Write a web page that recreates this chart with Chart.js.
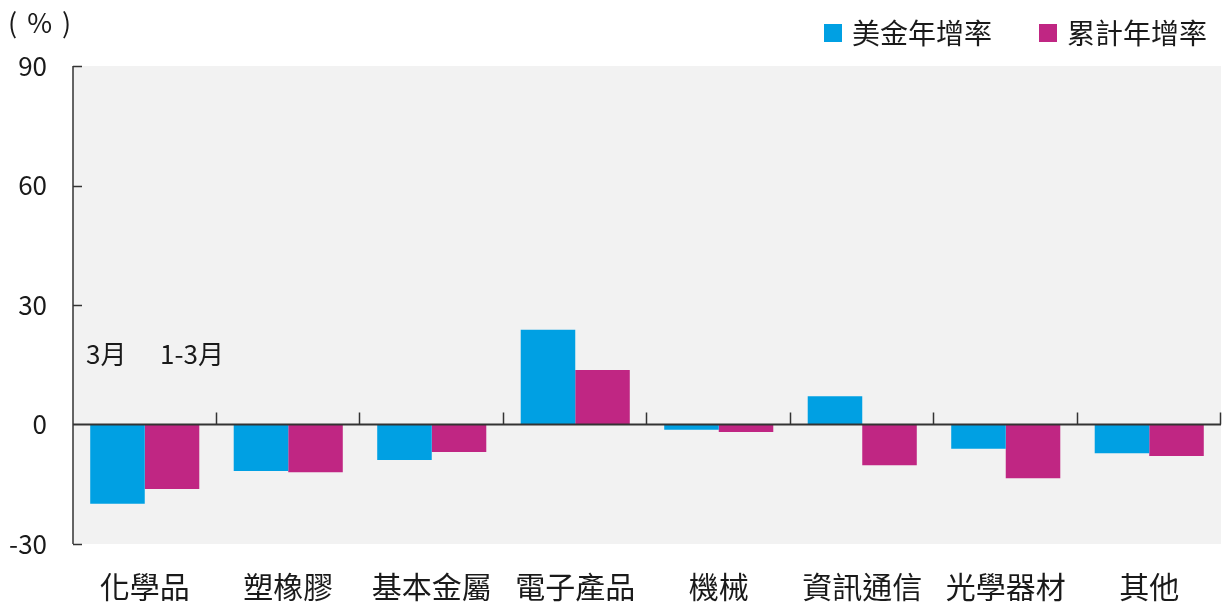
<!DOCTYPE html>
<html>
<head>
<meta charset="utf-8">
<script src="https://cdn.jsdelivr.net/npm/chart.js@4"></script>
<style>
html,body{margin:0;padding:0;background:#fff;}
#wrap{position:relative;width:1223px;height:607px;}
</style>
</head>
<body>
<div id="wrap"><canvas id="c"></canvas></div>
<script>
const categories = ['化學品','塑橡膠','基本金屬','電子產品','機械','資訊通信','光學器材','其他'];
const usdYoY = [-19.9, -11.7, -8.9, 23.8, -1.3, 7.1, -6.1, -7.2];
const cumYoY = [-16.2, -12.0, -6.9, 13.7, -1.9, -10.2, -13.5, -7.9];
const seriesNames = ['美金年增率','累計年增率'];
const yTicks = [90, 60, 30, 0, -30];
const unitLabel = '( % )';
const periodLabels = ['3月', '1-3月'];

const FONT = '"Noto Sans CJK TC","Noto Sans",sans-serif';
const BLUE = '#00A0E3';
const MAGENTA = '#C02683';
const AXIS = '#333333';

const deco = {
  id: 'deco',
  beforeDraw(chart) {
    const {ctx, chartArea: a} = chart;
    ctx.save();
    ctx.fillStyle = '#f2f2f2';
    ctx.fillRect(a.left, a.top, a.right - a.left, a.bottom - a.top);
    ctx.restore();
  },
  afterDatasetsDraw(chart) {
    const {ctx, chartArea: a, scales: {x, y}} = chart;
    const y0 = y.getPixelForValue(0);
    ctx.save();
    ctx.strokeStyle = AXIS;
    ctx.lineWidth = 1.5;
    ctx.beginPath();
    ctx.moveTo(a.left, a.top);
    ctx.lineTo(a.left, a.bottom);
    ctx.stroke();
    y.ticks.forEach(t => {
      if (t.value === 0) return;
      const py = Math.round(y.getPixelForValue(t.value)) + 0.5;
      ctx.beginPath();
      ctx.moveTo(a.left, py);
      ctx.lineTo(a.left + 9, py);
      ctx.stroke();
    });
    ctx.lineWidth = 2;
    ctx.beginPath();
    ctx.moveTo(a.left, y0);
    ctx.lineTo(a.right, y0);
    ctx.stroke();
    ctx.lineWidth = 1.5;
    const half = (x.getPixelForValue(1) - x.getPixelForValue(0)) / 2;
    for (let i = 0; i < categories.length; i++) {
      const px = Math.round(x.getPixelForValue(i) + half) - 0.5;
      ctx.beginPath();
      ctx.moveTo(px, y0);
      ctx.lineTo(px, y0 - 12);
      ctx.stroke();
    }
    ctx.restore();
  },
  afterDraw(chart) {
    const {ctx, chartArea: a} = chart;
    ctx.save();
    ctx.fillStyle = '#1a1a1a';
    ctx.textBaseline = 'middle';
    ctx.textAlign = 'left';
    ctx.font = '27px ' + FONT;
    ctx.letterSpacing = '2px';
    ctx.fillText(unitLabel, 8, 23);
    ctx.letterSpacing = '0px';
    ctx.font = '26px ' + FONT;
    ctx.fillText(periodLabels[0], a.left + 13, 354);
    ctx.fillText(periodLabels[1], a.left + 87, 354);
    const colors = [BLUE, MAGENTA];
    const boxX = [824, 1039];
    chart.data.datasets.forEach((ds, i) => {
      ctx.fillStyle = colors[i];
      ctx.fillRect(boxX[i], 24, 18, 18);
      ctx.fillStyle = '#1a1a1a';
      ctx.font = '28px ' + FONT;
      ctx.fillText(ds.label, boxX[i] + 28, 33);
    });
    ctx.restore();
  }
};

new Chart(document.getElementById('c'), {
  type: 'bar',
  data: {
    labels: categories,
    datasets: [
      {label: seriesNames[0], data: usdYoY, backgroundColor: BLUE, borderWidth: 0},
      {label: seriesNames[1], data: cumYoY, backgroundColor: MAGENTA, borderWidth: 0}
    ]
  },
  options: {
    responsive: true,
    maintainAspectRatio: false,
    animation: false,
    layout: {padding: {top: 66, right: 2, bottom: 2, left: 0}},
    datasets: {bar: {categoryPercentage: 0.76, barPercentage: 1.0}},
    plugins: {legend: {display: false}, tooltip: {enabled: false}},
    scales: {
      x: {
        grid: {display: false, drawTicks: false},
        border: {display: false},
        afterFit(scale) { scale.height = 61; },
        ticks: {font: {family: FONT, size: 30}, color: '#1a1a1a', padding: 25, maxRotation: 0, autoSkip: false}
      },
      y: {
        min: -30, max: 90,
        afterBuildTicks(scale) { scale.ticks = yTicks.map(v => ({value: v})); },
        afterFit(scale) { scale.width = 73; },
        grid: {display: false, drawTicks: false},
        border: {display: false},
        ticks: {font: {family: FONT, size: 26}, color: '#1a1a1a', padding: 26}
      }
    }
  },
  plugins: [deco]
});
</script>
</body>
</html>
